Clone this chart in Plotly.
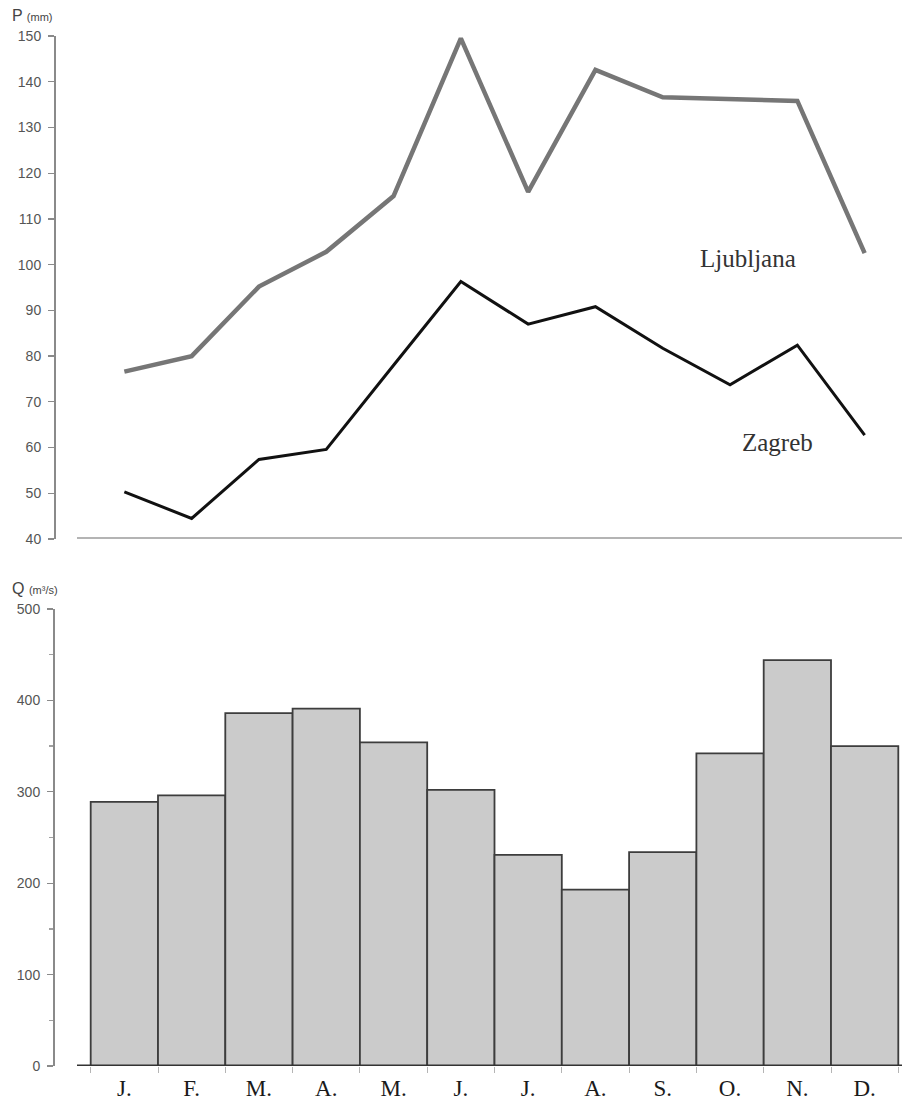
import plotly.graph_objects as go

# ---- data ----
months = ["J.", "F.", "M.", "A.", "M.", "J.", "J.", "A.", "S.", "O.", "N.", "D."]
ljubljana = [76.6, 80.0, 95.2, 102.8, 115.0, 149.5, 115.9, 142.6, 136.6, 136.1, 135.8, 102.5]
zagreb = [50.3, 44.5, 57.4, 59.6, 78.0, 96.3, 87.0, 90.8, 81.7, 73.7, 82.4, 62.7]
discharge = [289, 296, 386, 391, 354, 302, 231, 193, 234, 342, 444, 350]
p_ticks = [40, 50, 60, 70, 80, 90, 100, 110, 120, 130, 140, 150]
q_ticks = [0, 100, 200, 300, 400, 500]

idx = list(range(len(months)))

W, H = 902, 1101
x_left_px = 55
xr = [-1.0305, 11.555]
xdom = [x_left_px / W, 1.0]

fig = go.Figure()

# top: precipitation lines
fig.add_trace(go.Scatter(x=idx, y=ljubljana, mode="lines", xaxis="x2", yaxis="y2",
                         line=dict(color="#767676", width=4.5), showlegend=False,
                         hoverinfo="skip"))
fig.add_trace(go.Scatter(x=idx, y=zagreb, mode="lines", xaxis="x2", yaxis="y2",
                         line=dict(color="#111111", width=3), showlegend=False,
                         hoverinfo="skip"))

# bottom: discharge bars
fig.add_trace(go.Bar(x=idx, y=discharge, width=1.0, xaxis="x", yaxis="y",
                     marker=dict(color="#cbcbcb", line=dict(color="#3d3d3d", width=1.8)),
                     showlegend=False, hoverinfo="skip"))

tickfont = dict(family="Liberation Sans, Arial, sans-serif", size=14, color="#555555")

fig.update_layout(
    width=W, height=H,
    autosize=False,
    margin=dict(l=0, r=0, t=0, b=0, pad=0),
    paper_bgcolor="white", plot_bgcolor="white",
    bargap=0,
    xaxis=dict(domain=xdom, range=xr, tickmode="array", tickvals=idx, ticktext=months,
               automargin=False,
               ticks="outside", ticklen=1, tickcolor="rgba(0,0,0,0)",
               tickfont=dict(family="Liberation Serif, Times New Roman, serif", size=23, color="#1a1a1a"),
               minor=dict(ticks="outside", tick0=0.5, dtick=1, ticklen=6, tickcolor="#b5b5b5", tickwidth=1),
               showline=False, showgrid=False, zeroline=False, fixedrange=True),
    yaxis=dict(domain=[1 - 1066 / H, 1 - 609 / H], range=[0, 500], tickmode="array", tickvals=q_ticks,
               automargin=False,
               ticks="outside", ticklen=6, tickcolor="#8a8a8a", tickwidth=1.3,
               minor=dict(ticks="outside", dtick=50, tick0=0, ticklen=4, tickcolor="#a0a0a0"),
               tickfont=tickfont, ticklabelstandoff=4,
               showline=True, linecolor="#8a8a8a", linewidth=2,
               showgrid=False, zeroline=False, fixedrange=True),
    xaxis2=dict(domain=xdom, range=xr, anchor="y2", visible=False, automargin=False, fixedrange=True),
    yaxis2=dict(domain=[1 - 539 / H, 1 - 26.85 / H], range=[40, 152], anchor="x2",
                automargin=False,
                tickmode="array", tickvals=p_ticks,
                ticks="outside", ticklen=6, tickcolor="#8a8a8a", tickwidth=1.3,
                tickfont=tickfont, ticklabelstandoff=4,
                showline=False, showgrid=False, zeroline=False, fixedrange=True),
    shapes=[
        # top y-axis line (40..150)
        dict(type="line", xref="paper", yref="y2", x0=x_left_px / W, x1=x_left_px / W,
             y0=p_ticks[0], y1=p_ticks[-1], line=dict(color="#8a8a8a", width=2)),
        # top baseline
        dict(type="line", xref="x2", yref="y2", x0=-0.7036, x1=xr[1], y0=p_ticks[0], y1=p_ticks[0],
             line=dict(color="#b4b4b4", width=4)),
        # bottom baseline
        dict(type="line", xref="x", yref="y", x0=-0.7036, x1=xr[1], y0=0, y1=0,
             line=dict(color="#333333", width=3), layer="above"),
    ],
    annotations=[
        dict(text="Ljubljana", xref="x2", yref="y2", x=9.267, y=101.45, showarrow=False,
             font=dict(family="Liberation Serif, Times New Roman, serif", size=25, color="#333333")),
        dict(text="Zagreb", xref="x2", yref="y2", x=9.712, y=61.2, showarrow=False,
             font=dict(family="Liberation Serif, Times New Roman, serif", size=25, color="#333333")),
        dict(text="P <span style='font-size:11px'>(mm)</span>", xref="paper", yref="paper",
             x=10 / W, y=1 - 16 / H, xanchor="left", yanchor="middle", showarrow=False,
             font=dict(family="Liberation Sans, Arial, sans-serif", size=16, color="#444444")),
        dict(text="Q <span style='font-size:11px'>(m³/s)</span>", xref="paper", yref="paper",
             x=10 / W, y=1 - 588 / H, xanchor="left", yanchor="middle", showarrow=False,
             font=dict(family="Liberation Sans, Arial, sans-serif", size=16, color="#444444")),
    ],
)

fig.write_html("out.html", config={"displayModeBar": False, "staticPlot": True},
               post_script="document.body.style.margin='0';document.body.style.overflow='hidden';")
